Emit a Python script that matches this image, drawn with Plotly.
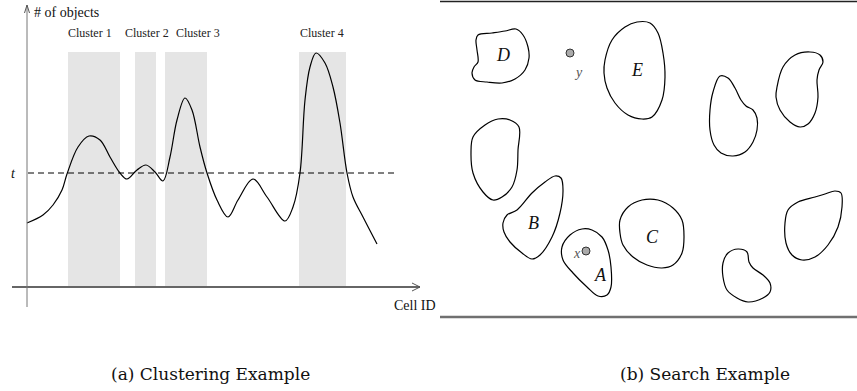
import plotly.graph_objects as go

W, H = 857, 391

# ---------------- (a) Clustering example data ----------------
cell_id = [0, 16, 26, 35, 40, 51, 62, 73, 83, 93, 100, 110, 119, 128, 136, 143, 150,
           158, 165, 173, 180, 190, 201, 211, 226, 240, 258, 266, 273, 278, 283, 289,
           298, 306, 313, 320, 326, 336, 350]
num_objects = [64, 72, 82, 97, 113, 140, 151, 147, 130, 114, 108, 117, 122, 115, 106, 130, 167,
               189, 177, 140, 114, 87, 70, 87, 108, 90, 66, 80, 114, 187, 220, 234,
               224, 200, 164, 114, 90, 70, 43]
threshold = 114
cluster_names = ["Cluster 1", "Cluster 2", "Cluster 3", "Cluster 4"]
cluster_start = [41, 108, 138, 272]
cluster_end = [93, 129, 180, 319]
cluster_label_x = [63, 120, 171, 295]
cluster_top = 235

# ---------------- (b) Search example data (map coordinates) ----------------
blob_names = ["D", "E", "L1", "B", "A", "C", "F", "G", "H", "I"]
blob_x = [
    [23, 37, 50, 61, 68, 73, 74, 70, 60, 47, 32, 20, 17, 19, 23, 22, 21],
    [150, 157, 170, 182, 195, 203, 208, 210, 207, 197, 187, 173, 160, 152, 149],
    [30, 43, 55, 64, 63, 62, 57, 47, 38, 28, 18, 16, 18],
    [48, 52, 62, 77, 90, 100, 106, 108, 105, 97, 85, 77, 67, 55, 49],
    [107, 115, 127, 137, 147, 153, 156, 156, 152, 143, 132, 118, 108],
    [165, 173, 187, 203, 218, 227, 229, 227, 218, 207, 192, 178, 168, 165],
    [265, 273, 280, 286, 291, 298, 302, 302, 298, 290, 278, 266, 259, 255, 255, 258],
    [322, 328, 340, 355, 365, 368, 364, 362, 363, 360, 353, 345, 335, 325, 321],
    [330, 333, 343, 360, 370, 380, 386, 387, 383, 373, 360, 347, 337, 331],
    [268, 273, 283, 292, 294, 298, 308, 315, 315, 308, 293, 282, 272, 268],
]
blob_y = [
    [35, 33, 31, 29, 35, 47, 58, 70, 79, 83, 82, 80, 73, 67, 62, 50, 40],
    [60, 40, 27, 22, 23, 33, 53, 77, 100, 117, 119, 115, 103, 88, 73],
    [125, 119, 120, 127, 150, 170, 187, 197, 200, 192, 173, 153, 137],
    [223, 215, 210, 193, 182, 176, 178, 190, 213, 237, 255, 259, 253, 242, 232],
    [247, 235, 229, 230, 237, 250, 267, 287, 295, 296, 287, 273, 260],
    [220, 207, 200, 200, 208, 220, 237, 253, 265, 268, 265, 257, 245, 233],
    [76, 78, 88, 100, 106, 110, 118, 130, 142, 152, 156, 153, 145, 130, 110, 92],
    [87, 67, 55, 52, 55, 62, 70, 80, 97, 113, 124, 127, 122, 110, 97],
    [223, 210, 202, 197, 194, 191, 193, 207, 227, 245, 257, 260, 255, 243],
    [263, 253, 249, 252, 262, 268, 275, 283, 292, 298, 302, 298, 290, 277],
]
region_labels = ["D", "E", "B", "C", "A"]
region_label_x = [48, 182, 78, 197, 145]
region_label_y = [55, 70, 223, 237, 275]
query_names = ["y", "x"]
query_x = [115, 131]
query_y = [53, 251]
query_label_x = [123, 122]
query_label_y = [72, 253]

captions = ["(a) Clustering Example", "(b) Search Example"]

fig = go.Figure()

# shaded clusters
for s, e in zip(cluster_start, cluster_end):
    fig.add_shape(type="rect", xref="x", yref="y", x0=s, x1=e, y0=0, y1=cluster_top,
                  fillcolor="#e5e5e5", line_width=0, layer="below")
for name, lx in zip(cluster_names, cluster_label_x):
    fig.add_annotation(xref="x", yref="y", x=lx, y=cluster_top + 19, text=name,
                       showarrow=False, font=dict(family="Liberation Serif", size=12, color="#222"))

# axes lines
fig.add_shape(type="line", xref="x", yref="y", x0=-15, x1=393, y0=0, y1=0,
              line=dict(color="#666", width=2))
fig.add_shape(type="line", xref="x", yref="y", x0=0, x1=0, y0=-20, y1=282,
              line=dict(color="#777", width=1))
# open arrowheads
fig.add_shape(type="path", xref="x", yref="y", path="M 385 4 L 393 0 L 385 -4",
              line=dict(color="#555", width=1))
fig.add_shape(type="path", xref="x", yref="y", path="M -2.5 274 L 0 282 L 2.5 274",
              line=dict(color="#555", width=1))

# threshold
fig.add_shape(type="line", xref="x", yref="y", x0=1, x1=371, y0=threshold, y1=threshold,
              line=dict(color="black", width=1, dash="6px,4px"))

fig.add_trace(go.Scatter(x=cell_id, y=num_objects, mode="lines",
                         line=dict(color="black", width=1.2, shape="spline", smoothing=1.0),
                         xaxis="x", yaxis="y", showlegend=False, hoverinfo="skip"))

fig.add_annotation(xref="x", yref="y", x=5, y=275, text="# of objects", showarrow=False, xanchor="left",
                   font=dict(family="Liberation Serif", size=14, color="#111"))
fig.add_annotation(xref="x", yref="y", x=365, y=-18, text="Cell ID", showarrow=False, xanchor="left",
                   font=dict(family="Liberation Serif", size=14, color="#111"))
fig.add_annotation(xref="x", yref="y", x=-14, y=threshold, text="<i>t</i>", showarrow=False,
                   font=dict(family="Liberation Serif", size=14, color="#111"))

# ---------------- (b) ----------------
for bx, by in zip(blob_x, blob_y):
    fig.add_trace(go.Scatter(x=bx + [bx[0]], y=by + [by[0]], mode="lines",
                             line=dict(color="black", width=1.2, shape="spline", smoothing=1.0),
                             xaxis="x2", yaxis="y2", showlegend=False, hoverinfo="skip"))
fig.add_trace(go.Scatter(x=query_x, y=query_y, mode="markers",
                         marker=dict(size=8, color="#aaaaaa", line=dict(color="#333", width=1)),
                         xaxis="x2", yaxis="y2", showlegend=False, hoverinfo="skip"))
for t, x, y in zip(region_labels, region_label_x, region_label_y):
    fig.add_annotation(xref="x2", yref="y2", x=x, y=y, text="<i>" + t + "</i>", showarrow=False,
                       font=dict(family="Liberation Serif", size=18, color="#111"))
for t, x, y in zip(query_names, query_label_x, query_label_y):
    fig.add_annotation(xref="x2", yref="y2", x=x, y=y, text="<i>" + t + "</i>", showarrow=False,
                       font=dict(family="Liberation Serif", size=14, color="#555"))

fig.add_shape(type="line", xref="x2", yref="y2", x0=-15, x1=402, y0=1.5, y1=1.5,
              line=dict(color="#222", width=1.5))
fig.add_shape(type="line", xref="x2", yref="y2", x0=-15, x1=402, y0=317, y1=317,
              line=dict(color="#707070", width=2.5))

# captions
for cap, cx in zip(captions, [210, 705]):
    fig.add_annotation(xref="paper", yref="paper", x=cx / W, y=1 - 374 / H, text=cap,
                       xanchor="center", yanchor="middle",
                       showarrow=False, font=dict(family="DejaVu Serif", size=17, color="#111"))

ax_common = dict(visible=False, showgrid=False, zeroline=False, fixedrange=True)
fig.update_layout(
    width=W, height=H, margin=dict(l=0, r=0, t=0, b=0),
    paper_bgcolor="white", plot_bgcolor="white",
    xaxis=dict(domain=[0, 440 / W], range=[-27, 413], **ax_common),
    yaxis=dict(domain=[1 - 330 / H, 1], range=[-43, 287], **ax_common),
    xaxis2=dict(domain=[440 / W, 1], range=[-15, 402], anchor="y2", **ax_common),
    yaxis2=dict(domain=[1 - 330 / H, 1], range=[330, 0], anchor="x2", **ax_common),
)

fig.write_html("out.html", config={"displayModeBar": False},
               post_script="document.body.style.margin='0';document.body.style.overflow='hidden';")
